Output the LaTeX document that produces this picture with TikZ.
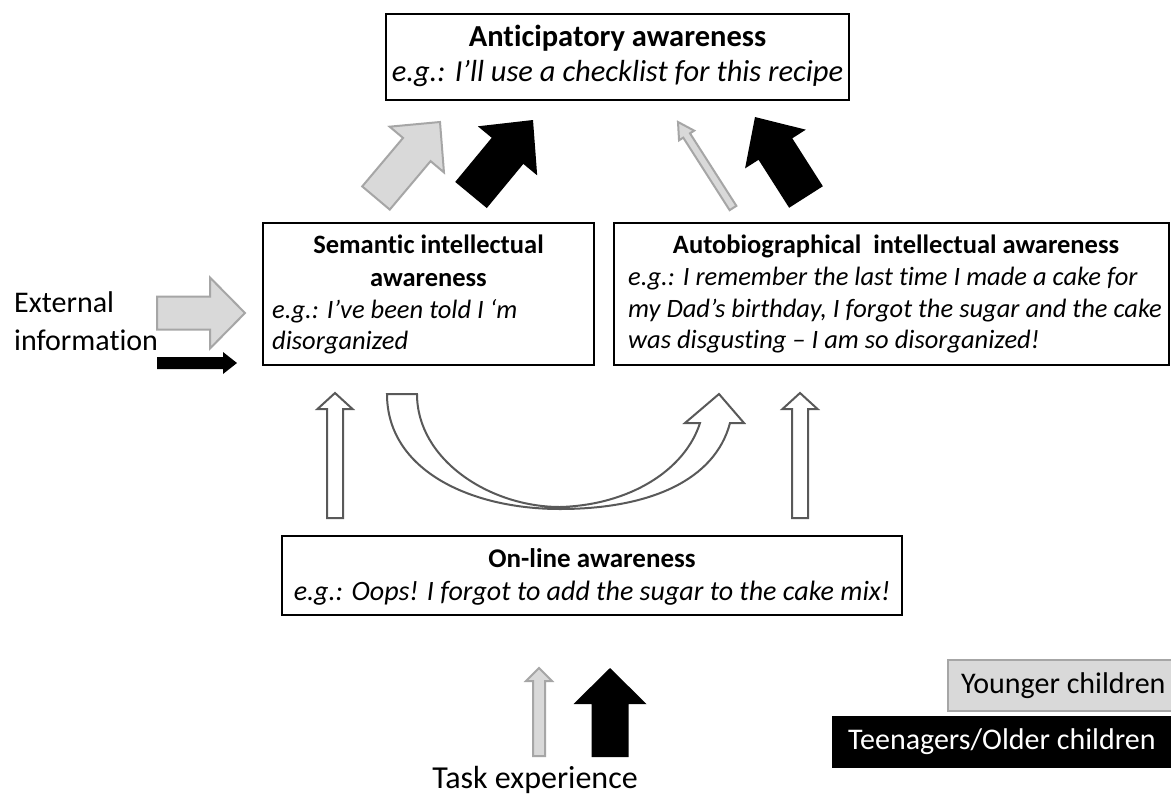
\documentclass[tikz,border=0pt]{standalone}
\usepackage{fontspec}
\setmainfont{Carlito}[Ligatures=NoCommon]
\usetikzlibrary{calc}
\definecolor{lightfill}{HTML}{D9D9D9}
\definecolor{grayline}{HTML}{A6A6A6}
\definecolor{darkline}{HTML}{595959}
\tikzset{
  box/.style={draw=black, line width=2.6pt, fill=white, inner sep=0pt},
  titletext/.style={font=\fontsize{#1}{#1}\selectfont\bfseries, anchor=base, inner sep=0pt},
  exampletext/.style={font=\fontsize{#1}{#1}\selectfont\itshape, anchor=base west, inner sep=0pt},
  exampletextc/.style={exampletext=#1, anchor=base},
  plaintext/.style={font=\fontsize{#1}{38}\selectfont, inner sep=0pt},
  openarr/.style={draw=darkline, line width=2pt, fill=white, line join=miter},
  grayarr/.style={draw=grayline, line width=2pt, fill=lightfill},
  blackarr/.style={fill=black},
}
% block arrow: #1 style, #2 tail, #3 tip, #4 shaft width, #5 head width, #6 head length
\newcommand{\blockarr}[6]{%
  \pgfmathsetlengthmacro\baW{#4/2}%
  \pgfmathsetlengthmacro\baH{#5/2}%
  \pgfmathsetlengthmacro\baL{#6}%
  \coordinate (ba-base) at ($(#3)!\baL!(#2)$);
  \path[#1] ($(#2)!\baW!90:(#3)$) -- ($(ba-base)!\baW!-90:(#2)$)
    -- ($(ba-base)!\baH!-90:(#2)$) -- (#3) -- ($(ba-base)!\baH!90:(#2)$)
    -- ($(ba-base)!\baW!90:(#2)$) -- ($(#2)!\baW!-90:(#3)$) -- cycle;}
\begin{document}
\begin{tikzpicture}[x=1pt,y=-1pt]
\useasboundingbox (0,0) rectangle (1171,796);
\fill[white] (0,0) rectangle (1171,796);

% ---------- boxes ----------
\node[box, minimum width=463pt, minimum height=86pt] (ant) at (617.5,57) {};
\node[titletext=30.5] (antT) at (617.5,46) {Anticipatory awareness};
\node[exampletextc=30.5] (antE) at (617.5,81) {e.g.: I’ll use a checklist for this recipe};

\node[box, minimum width=331pt, minimum height=142pt] (sem) at (428.5,294) {};
\node[titletext=26.5] (semT1) at (428.5,253) {Semantic intellectual};
\node[titletext=26.5] (semT2) at (428.5,286) {awareness};
\node[exampletext=26.5] (semE1) at (272,318) {e.g.: I’ve been told I ‘m};
\node[exampletext=26.5] (semE2) at (272,349) {disorganized};

\node[box, minimum width=555pt, minimum height=142pt] (aut) at (891.5,294) {};
\node[titletext=26.5] (autT) at (896,253) {Autobiographical\ \ intellectual awareness};
\node[exampletext=26.5] (autE1) at (628,285) {e.g.: I remember the last time I made a cake for};
\node[exampletext=26.5] (autE2) at (628,317) {my Dad’s birthday, I forgot the sugar and the cake};
\node[exampletext=26.5] (autE3) at (628,348) {was disgusting – I am so disorganized!};

\node[box, minimum width=620pt, minimum height=79pt] (onl) at (592,575.5) {};
\node[titletext=27] (onlT) at (592,567) {On-line awareness};
\node[exampletextc=28] (onlE) at (592,600) {e.g.: Oops! I forgot to add the sugar to the cake mix!};

% ---------- free labels ----------
\node[plaintext=30, align=left, anchor=west] (ext) at (14,321) {External\\information};
\node[plaintext=32, anchor=base] (task) at (535,788) {Task experience};

% ---------- legend ----------
\node[draw=grayline, line width=2pt, fill=lightfill, plaintext=30, anchor=west,
      minimum height=51pt, inner xsep=13pt] (young) at (947,685.5) {\makebox[240pt][l]{Younger children}};
\node[fill=black, text=white, plaintext=30, anchor=west,
      minimum height=52pt, inner xsep=16pt] (teen) at (832,742) {\makebox[340pt][l]{Teenagers/Older children}};

% ---------- arrow end points ----------
\coordinate (g1tail) at (376,198);  \coordinate (g1tip) at (440,122);
\coordinate (b1tail) at (471,195);  \coordinate (b1tip) at (533,120);
\coordinate (g2tail) at (733,208);  \coordinate (g2tip) at (678,122);
\coordinate (b2tail) at (806,197);  \coordinate (b2tip) at (755,117);
\coordinate (egtail) at (157,313);  \coordinate (egtip) at (245,313);
\coordinate (ebtail) at (157,363);  \coordinate (ebtip) at (237,363);
\coordinate (o1tail) at (335,518);  \coordinate (o1tip) at (335,393);
\coordinate (o2tail) at (800,518);  \coordinate (o2tip) at (800,393);
\coordinate (tgtail) at (539,756);  \coordinate (tgtip) at (539,668);
\coordinate (tbtail) at (610,757);  \coordinate (tbtip) at (610,668);

% ---------- block arrows ----------
\blockarr{grayarr}{g1tail}{g1tip}{36}{71}{36}
\blockarr{blackarr}{b1tail}{b1tip}{41}{77}{40}
\blockarr{grayarr}{g2tail}{g2tip}{8}{18}{16}
\blockarr{blackarr}{b2tail}{b2tip}{40}{72}{38}
\blockarr{grayarr}{egtail}{egtip}{33}{71}{35}
\blockarr{blackarr}{ebtail}{ebtip}{12}{22}{14}
\blockarr{openarr}{o1tail}{o1tip}{16}{35}{16}
\blockarr{openarr}{o2tail}{o2tip}{16}{35}{16}
\blockarr{grayarr}{tgtail}{tgtip}{12}{26}{13}
\blockarr{blackarr}{tbtail}{tbtip}{37}{73}{36}

% ---------- curved arrow (semantic -> autobiographical) ----------
\draw[openarr] (387,394) -- (417,394)
  .. controls (417,460) and (490,507) .. (560,507)
  .. controls (630,505) and (685,470) .. (700,423)
  -- (685,423) -- (719,394) -- (744,423) -- (730,423)
  .. controls (715,480) and (650,509) .. (560,509)
  .. controls (470,509) and (387,470) .. cycle;
\end{tikzpicture}
\end{document}
